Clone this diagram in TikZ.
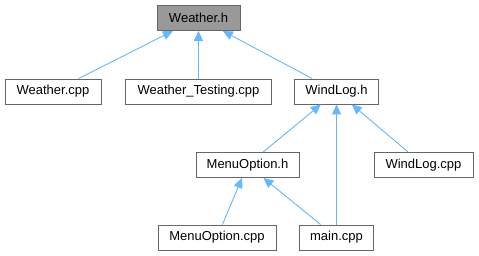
\documentclass[tikz,border=0pt]{standalone}
\usepackage{fontspec}
\setmainfont{Liberation Sans}
\usetikzlibrary{arrows.meta, positioning}
\definecolor{edgeblue}{RGB}{99,184,255}
\definecolor{boxline}{RGB}{102,102,102}
\definecolor{current}{RGB}{153,153,153}

\tikzset{
  file/.style={draw=boxline, line width=0.9pt, fill=white, minimum height=25pt,
               inner sep=0pt, font=\fontsize{13}{15}\selectfont},
  dep/.style={draw=edgeblue, line width=0.9pt,
              {Triangle[length=10pt, width=9pt, fill=edgeblue]}-}
}

\begin{document}
\begin{tikzpicture}[x=1pt, y=-1pt]
  \useasboundingbox (0,0) rectangle (479,256);

  % include hierarchy of Weather.h
  \node[file, fill=current, minimum width=83pt] (weather_h) at (198.5,18) {Weather.h};
  \node[file, minimum width=96pt]  (weather_cpp)     at (53,91.5)    {Weather.cpp};
  \node[file, minimum width=146pt] (weather_testing) at (198.5,91.5) {Weather\_Testing.cpp};
  \node[file, minimum width=84pt]  (windlog_h)       at (336.5,91.5) {WindLog.h};
  \node[file, minimum width=103pt] (menuoption_h)    at (247.5,165)  {MenuOption.h};
  \node[file, minimum width=99pt]  (windlog_cpp)     at (423.5,165)  {WindLog.cpp};
  \node[file, minimum width=118pt] (menuoption_cpp)  at (217,237.5)  {MenuOption.cpp};
  \node[file, minimum width=74pt]  (main_cpp)        at (336.5,237.5) {main.cpp};

  \draw[dep] (weather_h) -- (weather_cpp);
  \draw[dep] (weather_h) -- (weather_testing);
  \draw[dep] (weather_h) -- (windlog_h);
  \draw[dep] (windlog_h) -- (menuoption_h);
  \draw[dep] (windlog_h) -- (main_cpp);
  \draw[dep] (windlog_h) -- (windlog_cpp);
  \draw[dep] (menuoption_h) -- (menuoption_cpp);
  \draw[dep] (menuoption_h) -- (main_cpp);
\end{tikzpicture}
\end{document}
